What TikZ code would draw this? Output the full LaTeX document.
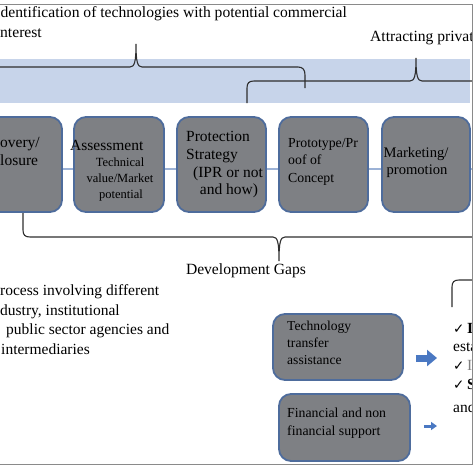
\documentclass[tikz,border=0pt]{standalone}
\usepackage{fontspec}
\setmainfont{Liberation Serif}
\newfontfamily\dejavu{DejaVu Sans}
\usetikzlibrary{arrows.meta}
\definecolor{band}{HTML}{C7D4EA}
\definecolor{boxfill}{HTML}{7E8084}
\definecolor{boxline}{HTML}{4E6C9C}
\definecolor{connline}{HTML}{9CB2D6}
\definecolor{arrowblue}{HTML}{4A78C2}
\definecolor{framegray}{HTML}{8A8A8A}
\definecolor{bracecol}{HTML}{2E2E2E}
\newcommand\fsz[1]{\fontsize{#1}{#1}\selectfont}
\newcommand\ck{{\dejavu\fsz{13.5}\char"2713}\kern2.5pt}
\begin{document}
\begin{tikzpicture}[x=1pt,y=-1pt,
  box/.style={draw=boxline, line width=1.8pt, fill=boxfill, rounded corners=12pt, inner sep=0pt},
  txt/.style={inner sep=0pt, anchor=mid west, text=black},
  ctxt/.style={inner sep=0pt, anchor=mid, text=black},
  conn/.style={draw=connline, line width=1.3pt},
  bracestyle/.style={draw=bracecol, line width=1.1pt},
  bluearrow/.style={draw=arrowblue}]
\useasboundingbox (0,0) rectangle (474,474);
\begin{scope}
\clip (0,0) rectangle (472,474);
% band
\fill[band] (0,59) rectangle (470,103);
% top texts
\node[txt, font=\fsz{15.6}] (t1) at (0.5,15) {dentification of technologies with potential commercial};
\node[txt, font=\fsz{15.6}] (t2) at (0,35) {nterest};
\node[txt, font=\fsz{15.6}] (t3) at (370,39) {Attracting privat};
% braces
\draw[bracestyle] (-10,67) -- (130,67) .. controls (134.5,67) and (136,62) .. (136,44)
  .. controls (136,62) and (137.5,67) .. (142,67) -- (298,67)
  .. controls (303,67) and (305,70) .. (305,75) -- (305,88);
\draw[bracestyle] (247,103) -- (247,88) .. controls (247,83) and (249,81) .. (254,81) -- (410,81)
  .. controls (414.5,81) and (416,76) .. (416,58)
  .. controls (416,76) and (417.5,81) .. (422,81) -- (480,81);
% boxes
\node[box, minimum width=102pt, minimum height=95pt] (b1) at (11,164.5) {};
\node[box, minimum width=90pt, minimum height=95pt] (b2) at (119,164.5) {};
\node[box, minimum width=89pt, minimum height=95pt] (b3) at (221.5,164.5) {};
\node[box, minimum width=89pt, minimum height=95pt] (b4) at (323.5,164.5) {};
\node[box, minimum width=88pt, minimum height=95pt] (b5) at (426,164.5) {};
\coordinate (rend) at (480,169);
\draw[conn] ([yshift=-4.5pt]b1.east) -- ([yshift=-4.5pt]b2.west);
\draw[conn] ([yshift=-4.5pt]b2.east) -- ([yshift=-4.5pt]b3.west);
\draw[conn] ([yshift=-4.5pt]b3.east) -- ([yshift=-4.5pt]b4.west);
\draw[conn] ([yshift=-4.5pt]b4.east) -- ([yshift=-4.5pt]b5.west);
\draw[conn] ([yshift=-4.5pt]b5.east) -- (rend);
% box texts
\node[txt, font=\fsz{15.5}] (b1a) at (0,145) {overy/};
\node[txt, font=\fsz{15.5}] (b1b) at (0,163) {losure};
\node[txt, font=\fsz{15.5}] (b2a) at (70,148) {Assessment};
\node[ctxt, font=\fsz{12.5}] (b2b) at (120,164) {Technical};
\node[ctxt, font=\fsz{12.5}] (b2c) at (120,180) {value/Market};
\node[ctxt, font=\fsz{12.5}] (b2d) at (121,196) {potential};
\node[txt, font=\fsz{15.5}] (b3a) at (186,139) {Protection};
\node[txt, font=\fsz{15.5}] (b3b) at (186,157) {Strategy};
\node[ctxt, font=\fsz{15.5}] (b3c) at (228,175) {(IPR or not};
\node[ctxt, font=\fsz{15.5}] (b3d) at (229,192) {and how)};
\node[txt, font=\fsz{13.8}] (b4a) at (288,145) {Prototype/Pr};
\node[txt, font=\fsz{13.8}] (b4b) at (288,162) {oof of};
\node[txt, font=\fsz{13.8}] (b4c) at (288,180) {Concept};
\node[ctxt, font=\fsz{14.6}] (b5a) at (416,155) {Marketing/};
\node[ctxt, font=\fsz{14.6}] (b5b) at (417,172) {promotion};
% bottom brace
\draw[bracestyle] (23,213) -- (23,230) .. controls (23,235) and (25,237) .. (30,237) -- (273,237)
  .. controls (277.5,237) and (279,242) .. (279,261)
  .. controls (279,242) and (280.5,237) .. (285,237) -- (480,237);
\node[ctxt, font=\fsz{15.6}] (gaps) at (246,272) {Development Gaps};
% left text
\node[txt, font=\fsz{15.5}] (l1) at (0,293) {rocess involving different};
\node[txt, font=\fsz{15.5}] (l2) at (0,313) {dustry, institutional};
\node[txt, font=\fsz{15.5}] (l3) at (6,332) {public sector agencies and};
\node[txt, font=\fsz{15.5}] (l4) at (1,352) {intermediaries};
% lower boxes
\node[box, minimum width=130pt, minimum height=66pt] (tb) at (338,347) {};
\node[txt, font=\fsz{13.6}] (tb1) at (287,328) {Technology};
\node[txt, font=\fsz{13.6}] (tb2) at (287,345) {transfer};
\node[txt, font=\fsz{13.6}] (tb3) at (287,362) {assistance};
\node[box, minimum width=131pt, minimum height=67pt] (fb) at (344.5,427.5) {};
\node[txt, font=\fsz{13.8}] (fb1) at (287,415) {Financial and non};
\node[txt, font=\fsz{13.8}] (fb2) at (287,433) {financial support};
% right bracket
\draw[bracestyle] (452,307) -- (452,287) .. controls (452,282) and (454,280) .. (459,280) -- (480,280);
% checklist
\node[txt, font=\fsz{15.5}] (c1) at (453,331) {\ck\textbf{I}};
\node[txt, font=\fsz{15.5}] (c2) at (453,349) {esta};
\node[txt, font=\fsz{15.5}] (c3) at (453,368) {\ck\textcolor{gray}{I}};
\node[txt, font=\fsz{15.5}] (c4) at (453,387) {\ck\textbf{S}};
\node[txt, font=\fsz{15.5}] (c5) at (453,410) {and};
% arrows
\coordinate (a1s) at ([xshift=12pt]tb.east |- 0,358);
\coordinate (a1e) at (437,358);
\draw[bluearrow, line width=7pt, -{Triangle[length=10pt,width=16pt]}] (a1s) -- (a1e);
\coordinate (a2s) at ([xshift=13pt]fb.east |- 0,426);
\coordinate (a2e) at (437,426);
\draw[bluearrow, line width=3pt, -{Triangle[length=6pt,width=8pt]}] (a2s) -- (a2e);
\end{scope}
% frame
\draw[framegray, line width=1pt] (0,4) -- (472,4) -- (472,464) -- (0,464);
\end{tikzpicture}
\end{document}
